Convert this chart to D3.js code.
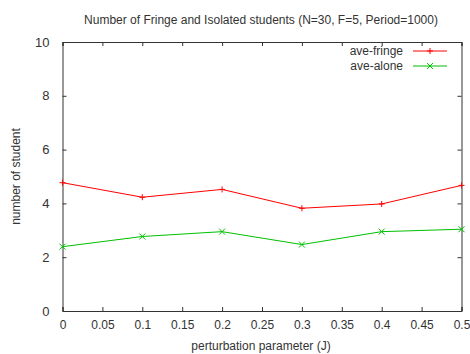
<!DOCTYPE html>
<html>
<head>
<meta charset="utf-8">
<script src="https://cdn.jsdelivr.net/npm/d3@7"></script>
<style>
  html, body { margin: 0; padding: 0; background: #fff; }
  svg text { font-family: "Liberation Sans", Arial, sans-serif; fill: #333; }
</style>
</head>
<body>
<svg id="chart" width="470" height="354"></svg>
<script>
// Perturbation parameter J on the x axis
const jValues = [0, 0.1, 0.2, 0.3, 0.4, 0.5];
// Average number of fringe students per J
const aveFringe = [4.77, 4.23, 4.52, 3.82, 3.98, 4.67];
// Average number of isolated students per J
const aveAlone = [2.39, 2.77, 2.95, 2.47, 2.95, 3.04];

const xTicks = [0, 0.05, 0.1, 0.15, 0.2, 0.25, 0.3, 0.35, 0.4, 0.45, 0.5];
const yTicks = [0, 2, 4, 6, 8, 10];

const seriesNames = ["ave-fringe", "ave-alone"];
const seriesColors = ["#ff0000", "#00c000"];

const margin = { left: 62.5, right: 8.5, top: 42, bottom: 43 };
const W = 470, H = 354;
const svg = d3.select("#chart");

const x = d3.scaleLinear().domain([0, 0.5]).range([margin.left, W - margin.right]);
const y = d3.scaleLinear().domain([0, 10]).range([H - margin.bottom, margin.top]);

const tickLen = 4;
const axisColor = "#333";

// Axes with inward ticks on all four sides
const axisBottomG = svg.append("g").attr("transform", `translate(0,${y(0)})`)
  .call(d3.axisBottom(x).tickValues(xTicks).tickSize(-tickLen).tickPadding(9)
    .tickFormat(d => String(+d.toFixed(2))));
const axisTopG = svg.append("g").attr("transform", `translate(0,${y(10)})`)
  .call(d3.axisTop(x).tickValues(xTicks).tickSize(-tickLen).tickFormat(""));
const axisLeftG = svg.append("g").attr("transform", `translate(${x(0)},0)`)
  .call(d3.axisLeft(y).tickValues(yTicks).tickSize(-tickLen).tickPadding(13));
const axisRightG = svg.append("g").attr("transform", `translate(${x(0.5)},0)`)
  .call(d3.axisRight(y).tickValues(yTicks).tickSize(-tickLen).tickFormat(""));

[axisBottomG, axisTopG, axisLeftG, axisRightG].forEach(g => {
  g.select(".domain").attr("stroke", axisColor).attr("stroke-width", 1);
  g.selectAll(".tick line").attr("stroke", axisColor);
  g.selectAll(".tick text").attr("font-size", 12).attr("fill", "#333")
    .attr("font-family", "'Liberation Sans', Arial, sans-serif");
});
axisLeftG.selectAll(".tick text").attr("font-size", 13);

// Data lines and point markers
const line = d3.line().x((d, i) => x(jValues[i])).y(d => y(d));
const plusPath = (cx, cy, s) => `M${cx - s},${cy}H${cx + s}M${cx},${cy - s}V${cy + s}`;
const crossPath = (cx, cy, s) => `M${cx - s},${cy - s}L${cx + s},${cy + s}M${cx - s},${cy + s}L${cx + s},${cy - s}`;
const markers = [plusPath, crossPath];

[aveFringe, aveAlone].forEach((vals, k) => {
  svg.append("path").datum(vals)
    .attr("fill", "none").attr("stroke", seriesColors[k]).attr("stroke-width", 1)
    .attr("d", line);
  svg.append("path")
    .attr("fill", "none").attr("stroke", seriesColors[k]).attr("stroke-width", 1)
    .attr("d", vals.map((v, i) => markers[k](x(jValues[i]), y(v), 3)).join(""));
});

// Legend in the upper right corner
seriesNames.forEach((name, k) => {
  const ly = 51 + k * 15;
  svg.append("text").attr("x", 403).attr("y", ly).attr("dy", "0.35em")
    .attr("text-anchor", "end").attr("font-size", 12).text(name);
  svg.append("line").attr("x1", 413).attr("x2", 447).attr("y1", ly).attr("y2", ly)
    .attr("stroke", seriesColors[k]).attr("stroke-width", 1);
  svg.append("path").attr("fill", "none").attr("stroke", seriesColors[k])
    .attr("d", markers[k](430, ly, 3));
});

// Title and axis labels
svg.append("text").attr("x", 261).attr("y", 20).attr("dy", "0.35em")
  .attr("text-anchor", "middle").attr("font-size", 12)
  .text("Number of Fringe and Isolated students (N=30, F=5, Period=1000)");
svg.append("text").attr("x", 261).attr("y", 346).attr("dy", "0.35em")
  .attr("text-anchor", "middle").attr("font-size", 12)
  .text("perturbation parameter (J)");
svg.append("text")
  .attr("transform", `translate(16,${(y(0) + y(10)) / 2}) rotate(-90)`)
  .attr("dy", "0.35em").attr("text-anchor", "middle").attr("font-size", 12)
  .text("number of student");
</script>
</body>
</html>
